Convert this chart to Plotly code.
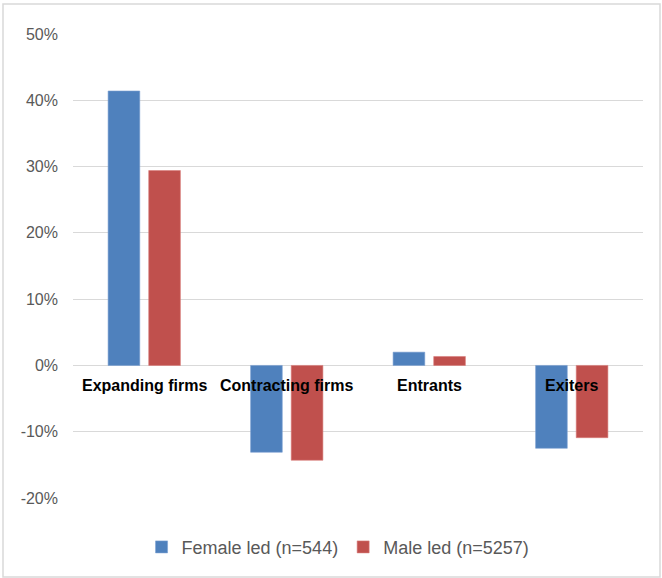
import plotly.graph_objects as go

# === Données ===
categories = ["Expanding firms", "Contracting firms", "Entrants", "Exiters"]
female_led = [0.414, -0.131, 0.020, -0.125]
male_led = [0.294, -0.143, 0.0135, -0.109]
y_ticks = [-0.2, -0.1, 0, 0.1, 0.2, 0.3, 0.4, 0.5]
y_tick_labels = ["-20%", "-10%", "0%", "10%", "20%", "30%", "40%", "50%"]

W, H = 662, 578
L, R, T, B = 73, 19, 34, 80
pw, ph = W - L - R, H - T - B

fig = go.Figure()
fig.add_trace(go.Bar(x=categories, y=female_led, name="Female led (n=544)",
                     marker=dict(color="#4f81bd", line=dict(color="#7aa0d2", width=0.6))))
fig.add_trace(go.Bar(x=categories, y=male_led, name="Male led (n=5257)",
                     marker=dict(color="#c0504d", line=dict(color="#d87c7a", width=0.6))))

# libellés des catégories posés sur l'axe zéro
for c in categories:
    fig.add_annotation(x=c, y=0, text="<b>" + c + "</b>", showarrow=False,
                       yanchor="top", yshift=-10,
                       font=dict(family="Arial, Liberation Sans", size=16, color="#000000"))

# cadre autour du graphique
fig.add_shape(type="rect", xref="paper", yref="paper",
              x0=(3 - L) / pw, x1=(660 - L) / pw,
              y0=(H - B - 577) / ph, y1=(H - B - 4) / ph,
              line=dict(color="#d9d9d9", width=1.5), fillcolor="rgba(0,0,0,0)", layer="below")

fig.update_layout(
    width=W, height=H,
    margin=dict(l=L, r=R, t=T, b=B, autoexpand=False),
    plot_bgcolor="white", paper_bgcolor="white",
    barmode="group", bargap=0.43, bargroupgap=0.22,
    font=dict(family="Arial, Liberation Sans", color="#595959"),
    xaxis=dict(showticklabels=False, showgrid=False, zeroline=False, showline=False),
    yaxis=dict(range=[-0.2, 0.5], tickvals=y_ticks, ticktext=y_tick_labels,
               showgrid=True, gridcolor="#d9d9d9", gridwidth=1.3,
               zeroline=True, zerolinecolor="#d9d9d9", zerolinewidth=1.3,
               tickfont=dict(size=16, color="#595959"), ticks="", ticklabelstandoff=14,
               automargin=False),
    legend=dict(orientation="h", x=0.465, xanchor="center", y=-0.106, yanchor="middle",
                font=dict(size=18, color="#595959"), itemwidth=30),
    showlegend=True,
)

fig.write_html("out.html", config={"displayModeBar": False},
               post_script="document.body.style.margin='0';")
